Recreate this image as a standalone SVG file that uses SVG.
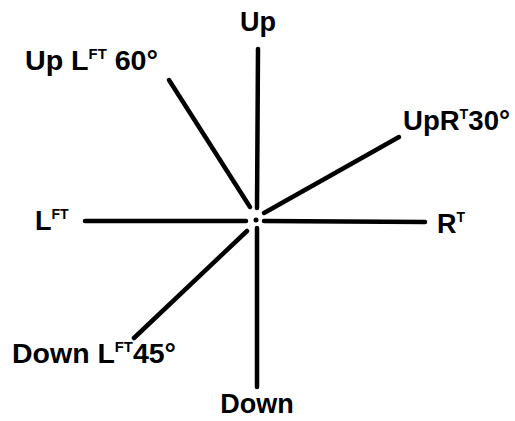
<svg xmlns="http://www.w3.org/2000/svg" width="515" height="421" viewBox="0 0 515 421">
<style>
.l{stroke:#000;stroke-width:4.5;stroke-linecap:round;fill:none}
text{font-family:"Liberation Sans",Arial,sans-serif;font-weight:bold;font-size:27px;fill:#000}
.s{font-size:14px}
</style>
<rect width="515" height="421" fill="#fff"/>
<g id="connectors">
<line class="l" x1="258" y1="49" x2="257" y2="208"/>
<line class="l" x1="257" y1="228" x2="257" y2="387"/>
<line class="l" x1="85" y1="221" x2="246" y2="221"/>
<line class="l" x1="264" y1="221" x2="425" y2="222"/>
<line class="l" x1="169" y1="80" x2="250" y2="207"/>
<line class="l" x1="264" y1="213" x2="399" y2="137"/>
<line class="l" x1="247" y1="231" x2="134" y2="338"/>
<circle cx="256" cy="220" r="2.5" fill="#000"/>
</g>
<g id="up"><text x="258" y="31" text-anchor="middle">Up</text></g>
<g id="upleft"><text x="25" y="70" textLength="133" lengthAdjust="spacingAndGlyphs">Up L<tspan class="s" dy="-11">FT</tspan><tspan dy="11"> 60°</tspan></text></g>
<g id="upright"><text x="403" y="130" textLength="107" lengthAdjust="spacingAndGlyphs">UpR<tspan class="s" dy="-11">T</tspan><tspan dy="11">30°</tspan></text></g>
<g id="left"><text x="35" y="230">L<tspan class="s" dy="-11">FT</tspan></text></g>
<g id="right"><text x="437" y="233">R<tspan class="s" dy="-11">T</tspan></text></g>
<g id="downleft"><text x="12" y="363" textLength="164" lengthAdjust="spacingAndGlyphs">Down L<tspan class="s" dy="-11">FT</tspan><tspan dy="11">45°</tspan></text></g>
<g id="down"><text x="257" y="413" text-anchor="middle">Down</text></g>
</svg>
